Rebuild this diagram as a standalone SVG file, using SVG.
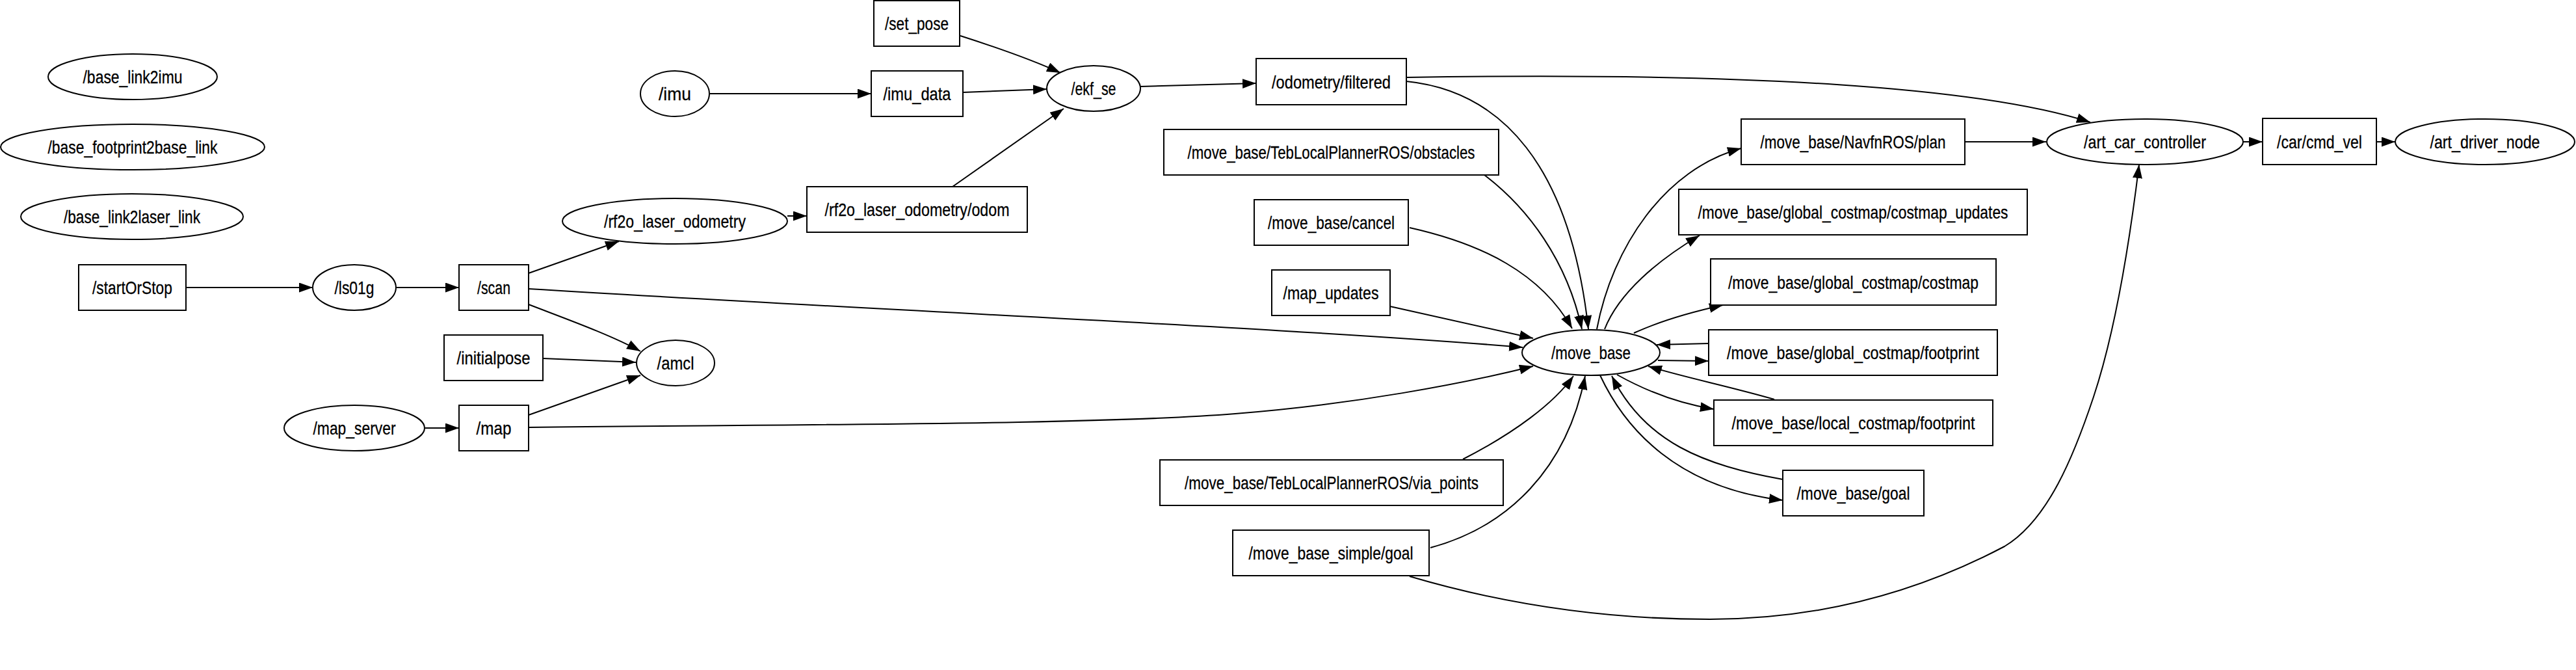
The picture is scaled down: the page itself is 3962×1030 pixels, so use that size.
<svg xmlns="http://www.w3.org/2000/svg" width="3962" height="1030" viewBox="0 0 3962 1030">
<style>
  .n ellipse, .n rect { fill: #ffffff; stroke: #000000; stroke-width: 2; }
  .n text { font-family: "Liberation Sans", Arial, sans-serif; font-size: 28px; text-anchor: middle; fill: #000000; stroke: #000000; stroke-width: 0.3; }
  #edges path { fill: none; stroke: #000000; stroke-width: 2; marker-end: url(#arr); }
</style>
<defs>
  <marker id="arr" markerUnits="userSpaceOnUse" markerWidth="22" markerHeight="16" refX="21" refY="7.5" orient="auto">
    <path d="M0,0 L21,7.5 L0,15 Z" fill="#000000"/>
  </marker>
</defs>
<rect x="0" y="0" width="3962" height="1030" fill="#ffffff"/>

<g id="edges">
  <path d="M286,442 L481,442"/>
  <path d="M609,442 L706,442"/>
  <path d="M813,420 L952,371"/>
  <path d="M813,468 C870,490 940,515 985,540"/>
  <path d="M813,444 C1400,480 2000,505 2342,534"/>
  <path d="M835,551 L978,557"/>
  <path d="M813,638 L985,577"/>
  <path d="M654,658 L706,658"/>
  <path d="M813,657 C1300,652 1700,652 1900,636 C2080,622 2250,590 2358,563"/>
  <path d="M1091,144 L1340,144"/>
  <path d="M1477,55 C1530,72 1590,93 1631,112"/>
  <path d="M1481,142 L1610,137"/>
  <path d="M1465,287 L1636,167"/>
  <path d="M1211,332 L1241,332"/>
  <path d="M1754,133 L1932,128"/>
  <path d="M2163,119 C2700,110 3050,135 3215,188"/>
  <path d="M2163,125 C2310,140 2415,255 2443,506"/>
  <path d="M2283,269 C2350,320 2410,400 2433,506"/>
  <path d="M2168,350 C2280,375 2370,420 2418,505"/>
  <path d="M2138,471 L2358,520"/>
  <path d="M2250,706 C2330,665 2390,620 2420,578"/>
  <path d="M2200,842 C2320,810 2410,720 2438,578"/>
  <path d="M2168,886 C2300,925 2450,952 2630,952 C2800,952 2950,910 3083,840 C3150,800 3190,700 3220,610 C3250,520 3272,400 3290,253"/>
  <path d="M2456,506 C2480,380 2560,260 2678,228"/>
  <path d="M2468,506 C2490,450 2550,400 2614,362"/>
  <path d="M2513,512 C2550,495 2600,480 2650,469"/>
  <path d="M2628,528 L2548,530"/>
  <path d="M2550,554 L2628,555"/>
  <path d="M2487,576 C2530,600 2580,620 2636,629"/>
  <path d="M2729,614 C2660,594 2590,580 2535,563"/>
  <path d="M2461,577 C2500,660 2580,750 2742,769"/>
  <path d="M2742,737 C2620,715 2530,680 2479,578"/>
  <path d="M3022,218 L3147,218"/>
  <path d="M3450,218 L3480,218"/>
  <path d="M3655,218 L3684,218"/>
</g>

<g id="base_link2imu" class="n"><ellipse cx="204" cy="118" rx="130" ry="35"/><text x="204" y="128" textLength="153" lengthAdjust="spacingAndGlyphs">/base_link2imu</text></g>
<g id="base_footprint2base_link" class="n"><ellipse cx="204" cy="226" rx="203" ry="35"/><text x="204" y="236" textLength="261" lengthAdjust="spacingAndGlyphs">/base_footprint2base_link</text></g>
<g id="base_link2laser_link" class="n"><ellipse cx="203" cy="333" rx="171" ry="35"/><text x="203" y="343" textLength="210" lengthAdjust="spacingAndGlyphs">/base_link2laser_link</text></g>
<g id="startOrStop" class="n"><rect x="121" y="407" width="165" height="70"/><text x="203.5" y="452" textLength="123" lengthAdjust="spacingAndGlyphs">/startOrStop</text></g>
<g id="ls01g" class="n"><ellipse cx="545" cy="442" rx="64" ry="35"/><text x="545" y="452" textLength="61" lengthAdjust="spacingAndGlyphs">/ls01g</text></g>
<g id="scan" class="n"><rect x="706" y="407" width="107" height="70"/><text x="759.5" y="452" textLength="51" lengthAdjust="spacingAndGlyphs">/scan</text></g>
<g id="initialpose" class="n"><rect x="683" y="515" width="152" height="70"/><text x="759" y="560" textLength="113" lengthAdjust="spacingAndGlyphs">/initialpose</text></g>
<g id="map_server" class="n"><ellipse cx="545" cy="658" rx="108" ry="35"/><text x="545" y="668" textLength="127" lengthAdjust="spacingAndGlyphs">/map_server</text></g>
<g id="map" class="n"><rect x="706" y="623" width="107" height="70"/><text x="759.5" y="668" textLength="54" lengthAdjust="spacingAndGlyphs">/map</text></g>
<g id="imu" class="n"><ellipse cx="1038" cy="144" rx="53" ry="35"/><text x="1038" y="154" textLength="50" lengthAdjust="spacingAndGlyphs">/imu</text></g>
<g id="rf2o_laser_odometry" class="n"><ellipse cx="1038" cy="340" rx="173" ry="35"/><text x="1038" y="350" textLength="218" lengthAdjust="spacingAndGlyphs">/rf2o_laser_odometry</text></g>
<g id="amcl" class="n"><ellipse cx="1039" cy="558" rx="60" ry="35"/><text x="1039" y="568" textLength="57" lengthAdjust="spacingAndGlyphs">/amcl</text></g>
<g id="set_pose" class="n"><rect x="1344" y="1" width="132" height="70"/><text x="1410" y="46" textLength="98" lengthAdjust="spacingAndGlyphs">/set_pose</text></g>
<g id="imu_data" class="n"><rect x="1340" y="109" width="141" height="70"/><text x="1410.5" y="154" textLength="104" lengthAdjust="spacingAndGlyphs">/imu_data</text></g>
<g id="rf2o_odom" class="n"><rect x="1241" y="287" width="339" height="70"/><text x="1410.5" y="332" textLength="284" lengthAdjust="spacingAndGlyphs">/rf2o_laser_odometry/odom</text></g>
<g id="ekf_se" class="n"><ellipse cx="1682" cy="136" rx="72" ry="35"/><text x="1682" y="146" textLength="69" lengthAdjust="spacingAndGlyphs">/ekf_se</text></g>
<g id="odometry_filtered" class="n"><rect x="1932" y="90" width="231" height="71"/><text x="2047.5" y="136" textLength="183" lengthAdjust="spacingAndGlyphs">/odometry/filtered</text></g>
<g id="teb_obstacles" class="n"><rect x="1790" y="199" width="515" height="70"/><text x="2047.5" y="244" textLength="442" lengthAdjust="spacingAndGlyphs">/move_base/TebLocalPlannerROS/obstacles</text></g>
<g id="move_base_cancel" class="n"><rect x="1929" y="307" width="237" height="70"/><text x="2047.5" y="352" textLength="195" lengthAdjust="spacingAndGlyphs">/move_base/cancel</text></g>
<g id="map_updates" class="n"><rect x="1956" y="415" width="182" height="70"/><text x="2047" y="460" textLength="147" lengthAdjust="spacingAndGlyphs">/map_updates</text></g>
<g id="teb_via_points" class="n"><rect x="1784" y="707" width="528" height="70"/><text x="2048" y="752" textLength="452" lengthAdjust="spacingAndGlyphs">/move_base/TebLocalPlannerROS/via_points</text></g>
<g id="move_base_simple_goal" class="n"><rect x="1896" y="815" width="302" height="70"/><text x="2047" y="860" textLength="253" lengthAdjust="spacingAndGlyphs">/move_base_simple/goal</text></g>
<g id="move_base" class="n"><ellipse cx="2447" cy="542" rx="106" ry="35"/><text x="2447" y="552" textLength="122" lengthAdjust="spacingAndGlyphs">/move_base</text></g>
<g id="navfn_plan" class="n"><rect x="2678" y="183" width="344" height="70"/><text x="2850" y="228" textLength="285" lengthAdjust="spacingAndGlyphs">/move_base/NavfnROS/plan</text></g>
<g id="global_costmap_updates" class="n"><rect x="2582" y="291" width="536" height="70"/><text x="2850" y="336" textLength="477" lengthAdjust="spacingAndGlyphs">/move_base/global_costmap/costmap_updates</text></g>
<g id="global_costmap" class="n"><rect x="2631" y="398" width="439" height="71"/><text x="2850.5" y="444" textLength="385" lengthAdjust="spacingAndGlyphs">/move_base/global_costmap/costmap</text></g>
<g id="global_footprint" class="n"><rect x="2628" y="507" width="444" height="70"/><text x="2850" y="552" textLength="388" lengthAdjust="spacingAndGlyphs">/move_base/global_costmap/footprint</text></g>
<g id="local_footprint" class="n"><rect x="2636" y="615" width="429" height="70"/><text x="2850.5" y="660" textLength="374" lengthAdjust="spacingAndGlyphs">/move_base/local_costmap/footprint</text></g>
<g id="move_base_goal" class="n"><rect x="2742" y="723" width="217" height="70"/><text x="2850.5" y="768" textLength="174" lengthAdjust="spacingAndGlyphs">/move_base/goal</text></g>
<g id="art_car_controller" class="n"><ellipse cx="3299" cy="218" rx="151" ry="35"/><text x="3299" y="228" textLength="188" lengthAdjust="spacingAndGlyphs">/art_car_controller</text></g>
<g id="car_cmd_vel" class="n"><rect x="3480" y="182" width="175" height="71"/><text x="3567.5" y="228" textLength="131" lengthAdjust="spacingAndGlyphs">/car/cmd_vel</text></g>
<g id="art_driver_node" class="n"><ellipse cx="3822" cy="218" rx="138" ry="35"/><text x="3822" y="228" textLength="169" lengthAdjust="spacingAndGlyphs">/art_driver_node</text></g>
</svg>
